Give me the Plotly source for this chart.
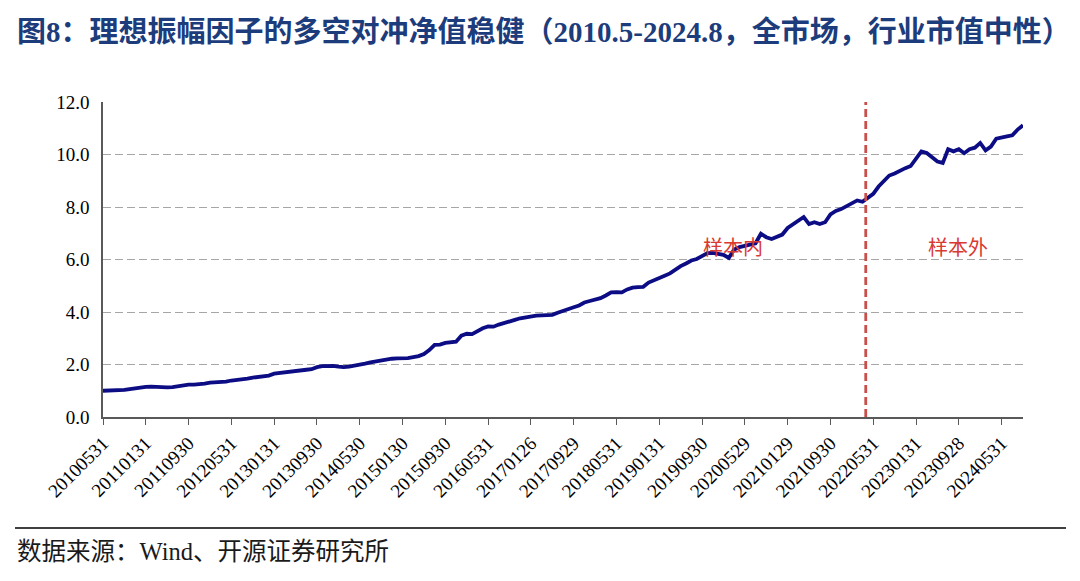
import plotly.graph_objects as go

# ---- data ----
nav_values = [
    1.00, 1.00, 1.00, 1.01, 1.03, 1.06, 1.10, 1.14, 1.15, 1.16,
    1.14, 1.13, 1.13, 1.14, 1.18, 1.21, 1.23, 1.23, 1.24, 1.27,
    1.31, 1.32, 1.32, 1.35, 1.39, 1.41, 1.42, 1.46, 1.50, 1.53,
    1.55, 1.58, 1.65, 1.68, 1.68, 1.72, 1.77, 1.79, 1.80, 1.82,
    1.90, 1.94, 1.95, 1.95, 1.92, 1.90, 1.92, 1.95, 1.99, 2.03,
    2.08, 2.12, 2.16, 2.20, 2.22, 2.23, 2.23, 2.24, 2.28, 2.32,
    2.40, 2.55, 2.75, 2.76, 2.82, 2.85, 2.87, 3.10, 3.17, 3.16,
    3.28, 3.38, 3.45, 3.44, 3.52, 3.59, 3.65, 3.70, 3.76, 3.80,
    3.84, 3.86, 3.87, 3.88, 3.89, 3.97, 4.05, 4.13, 4.18, 4.25,
    4.36, 4.42, 4.47, 4.53, 4.63, 4.75, 4.76, 4.75, 4.86, 4.93,
    4.95, 4.96, 5.12, 5.22, 5.30, 5.38, 5.47, 5.62, 5.75, 5.85,
    5.96, 6.02, 6.12, 6.24, 6.25, 6.20, 6.18, 6.06, 6.38, 6.47,
    6.52, 6.55, 6.62, 6.98, 6.85, 6.78, 6.86, 6.95, 7.20, 7.33,
    7.45, 7.62, 7.35, 7.42, 7.35, 7.42, 7.72, 7.85, 7.92, 8.02,
    8.12, 8.25, 8.20, 8.35, 8.50, 8.78, 8.98, 9.20, 9.28, 9.40,
    9.48, 9.56, 9.85, 10.12, 10.06, 9.90, 9.73, 9.68, 10.20, 10.12,
    10.20, 10.05, 10.20, 10.26, 10.44, 10.16, 10.30, 10.60, 10.66, 10.69,
    10.73, 10.95, 11.11,
]
period_index = list(range(len(nav_values)))

tick_positions = [0, 8, 16, 24, 32, 40, 48, 56, 64, 72, 80,
                  88, 96, 104, 112, 120, 128, 136, 144, 152, 160, 168]
tick_labels = ["20100531", "20110131", "20110930", "20120531", "20130131",
               "20130930", "20140530", "20150130", "20150930", "20160531",
               "20170126", "20170929", "20180531", "20190131", "20190930",
               "20200529", "20210129", "20210930", "20220531", "20230131",
               "20230928", "20240531"]

split_position = 142.6
y_ticks = [0, 2, 4, 6, 8, 10, 12]
y_tick_text = ["0.0", "2.0", "4.0", "6.0", "8.0", "10.0", "12.0"]

title_text = "图8：理想振幅因子的多空对冲净值稳健（2010.5-2024.8，全市场，行业市值中性）"
source_text = "数据来源：Wind、开源证券研究所"

# ---- figure ----
OFF = 8  # page body margin of the html page
W, H = 1080, 581
plot_left, plot_right, plot_top, plot_bottom = 103 - OFF, 1023 - OFF, 102 - OFF, 417 - OFF
L, R, T, B = plot_left, W - plot_right, plot_top, H - plot_bottom
pw, ph = plot_right - plot_left, plot_bottom - plot_top

def px_x(x):
    return (x - OFF - plot_left) / pw

def px_y(y):
    return (plot_bottom - (y - OFF)) / ph

serif = "Liberation Serif, Times New Roman, Noto Sans CJK SC, serif"

fig = go.Figure()
fig.add_trace(go.Scatter(
    x=period_index, y=nav_values, mode="lines",
    line=dict(color="#0c0c84", width=3.8),
    hoverinfo="skip", showlegend=False,
))

fig.add_shape(type="line", xref="x", yref="y",
              x0=split_position, x1=split_position, y0=0, y1=12,
              line=dict(color="#c8504a", width=2.8, dash="8px,4px"))

fig.add_shape(type="line", xref="paper", yref="paper",
              x0=px_x(15), x1=px_x(1066), y0=px_y(528), y1=px_y(528),
              line=dict(color="#000000", width=1.5))

fig.add_annotation(x=117.8, y=6.5, xref="x", yref="y", text="样本内",
                   showarrow=False,
                   font=dict(family="Noto Sans CJK SC", size=20, color="#d83a32"))
fig.add_annotation(x=159.9, y=6.5, xref="x", yref="y", text="样本外",
                   showarrow=False,
                   font=dict(family="Noto Sans CJK SC", size=20, color="#d83a32"))

fig.add_annotation(x=px_x(15), y=px_y(32), xref="paper", yref="paper",
                   xanchor="left", yanchor="middle", text="<b>" + title_text + "</b>",
                   showarrow=False,
                   font=dict(family=serif, size=29, color="#1c3c7c"))

fig.add_annotation(x=px_x(15), y=px_y(551), xref="paper", yref="paper",
                   xanchor="left", yanchor="middle", text=source_text,
                   showarrow=False,
                   font=dict(family=serif, size=24.5, color="#1a1a1a"))

fig.update_layout(
    width=W, height=H,
    margin=dict(l=L, r=R, t=T, b=B, autoexpand=False),
    paper_bgcolor="white", plot_bgcolor="white",
    showlegend=False,
    xaxis=dict(
        range=[0, len(nav_values) - 1],
        tickmode="array", tickvals=tick_positions, ticktext=tick_labels,
        tickangle=-45, ticks="outside", ticklen=6, tickcolor="#595959",
        showline=True, linecolor="#595959", linewidth=1.5,
        showgrid=False, zeroline=False, automargin=False,
        tickfont=dict(family=serif, size=19, color="#000000"),
    ),
    yaxis=dict(
        range=[0, 12],
        tickmode="array", tickvals=y_ticks, ticktext=y_tick_text,
        showline=True, linecolor="#595959", linewidth=1.5,
        showgrid=True, gridcolor="#a6a6a6", griddash="8px,4px", gridwidth=1.3,
        zeroline=False, ticks="", ticklabelstandoff=8, automargin=False,
        tickfont=dict(family=serif, size=19, color="#000000"),
    ),
)

fig.write_html("out.html")
